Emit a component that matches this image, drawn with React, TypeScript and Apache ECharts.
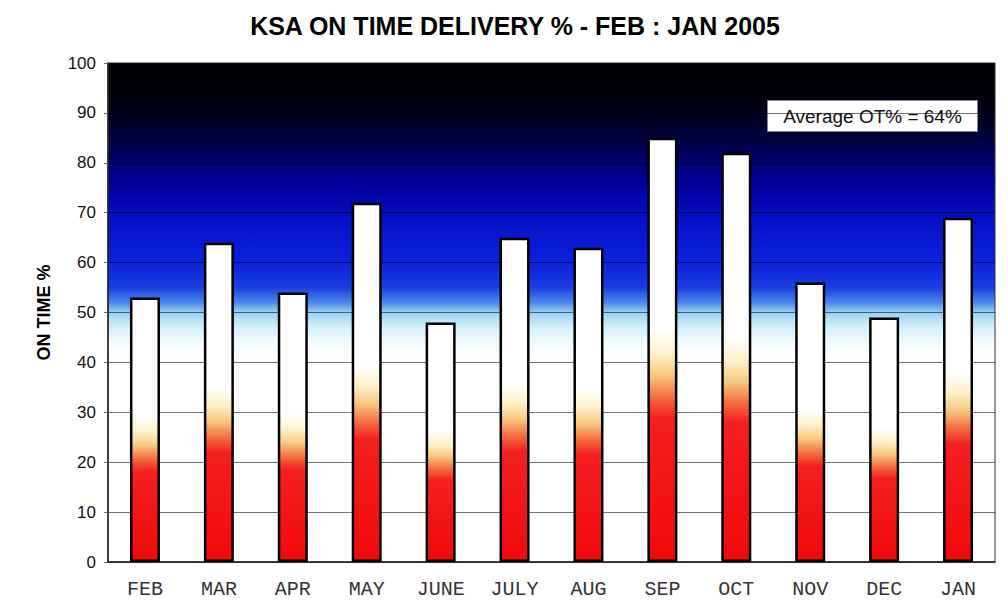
import React, { useEffect, useRef } from "react";
import * as echarts from "echarts";

const categories = ["FEB", "MAR", "APR", "MAY", "JUNE", "JULY", "AUG", "SEP", "OCT", "NOV", "DEC", "JAN"];
const onTimeValues = [53, 64, 54, 72, 48, 65, 63, 85, 82, 56, 49, 69];
const yTicks = [0, 10, 20, 30, 40, 50, 60, 70, 80, 90, 100];
const titleText = "KSA ON TIME DELIVERY % - FEB : JAN 2005";
const yAxisName = "ON TIME %";
const averageText = "Average OT% = 64%";

export default function App() {
  const ref = useRef<HTMLDivElement>(null);

  useEffect(() => {
    if (!ref.current) return;
    const chart = echarts.init(ref.current, null, { renderer: "svg" });

    const bgGradient = new echarts.graphic.LinearGradient(0, 0, 0, 1, [
      { offset: 0, color: "#000000" },
      { offset: 0.08, color: "#00000f" },
      { offset: 0.16, color: "#000045" },
      { offset: 0.24, color: "#00009a" },
      { offset: 0.32, color: "#0612c8" },
      { offset: 0.4, color: "#0c22dc" },
      { offset: 0.45, color: "#1a3ee0" },
      { offset: 0.48, color: "#4a88ea" },
      { offset: 0.5, color: "#98d2f2" },
      { offset: 0.53, color: "#d4f0fb" },
      { offset: 0.56, color: "#f2fbff" },
      { offset: 0.59, color: "#ffffff" },
      { offset: 1, color: "#ffffff" },
    ]);

    const barGradient = new echarts.graphic.LinearGradient(0, 0, 0, 1, [
      { offset: 0, color: "#ffffff" },
      { offset: 0.45, color: "#ffffff" },
      { offset: 0.51, color: "#fdf0c8" },
      { offset: 0.56, color: "#f8c880" },
      { offset: 0.61, color: "#f47040" },
      { offset: 0.66, color: "#f42020" },
      { offset: 1, color: "#f00a0a" },
    ]);

    chart.setOption({
      animation: false,
      backgroundColor: "#ffffff",
      title: {
        text: titleText,
        left: 510,
        top: 8,
        textAlign: "center",
        textStyle: {
          fontFamily: "Liberation Sans, Arial, sans-serif",
          fontWeight: "bold",
          fontSize: 25,
          color: "#000",
        },
      },
      grid: {
        left: 108,
        right: 13,
        top: 63,
        bottom: 38,
        show: true,
        backgroundColor: bgGradient,
        borderColor: "#333",
        borderWidth: 1,
      },
      xAxis: {
        type: "category",
        data: categories,
        axisTick: { show: false },
        axisLine: { lineStyle: { color: "#222", width: 1.5 } },
        axisLabel: {
          fontFamily: "Liberation Mono, Courier New, monospace",
          fontSize: 20,
          color: "#333",
          margin: 17,
        },
      },
      yAxis: {
        type: "value",
        min: yTicks[0],
        max: yTicks[yTicks.length - 1],
        interval: 10,
        name: yAxisName,
        nameLocation: "middle",
        nameGap: 55,
        nameTextStyle: {
          fontFamily: "Liberation Sans, Arial, sans-serif",
          fontWeight: "bold",
          fontSize: 18,
          color: "#000",
        },
        axisLine: { show: true, lineStyle: { color: "#222", width: 1.5 } },
        axisTick: { show: true, length: 4, lineStyle: { color: "#666" } },
        axisLabel: {
          fontFamily: "Liberation Sans, Arial, sans-serif",
          fontSize: 17,
          color: "#111",
          margin: 12,
        },
        splitLine: {
          show: true,
          lineStyle: { color: "rgba(0,0,0,0.55)", width: 1 },
        },
      },
      series: [
        {
          type: "bar",
          data: onTimeValues,
          barWidth: 30,
          itemStyle: {
            color: barGradient,
            borderColor: "#000",
            borderWidth: 2.5,
          },
        },
      ],
      graphic: [
        {
          type: "group",
          left: 767,
          top: 100,
          children: [
            {
              type: "rect",
              shape: { x: 0, y: 0, width: 210, height: 31 },
              style: { fill: "#ffffff", stroke: "#888", lineWidth: 1 },
            },
            {
              type: "text",
              x: 105,
              y: 16,
              style: {
                text: averageText,
                fontFamily: "Liberation Sans, Arial, sans-serif",
                fontSize: 19,
                fill: "#111",
                align: "center",
                verticalAlign: "middle",
              },
            },
          ],
        },
      ],
    });

    return () => chart.dispose();
  }, []);

  return (
    <div
      ref={ref}
      style={{ position: "fixed", left: 0, top: 0, width: 1008, height: 600 }}
    />
  );
}
